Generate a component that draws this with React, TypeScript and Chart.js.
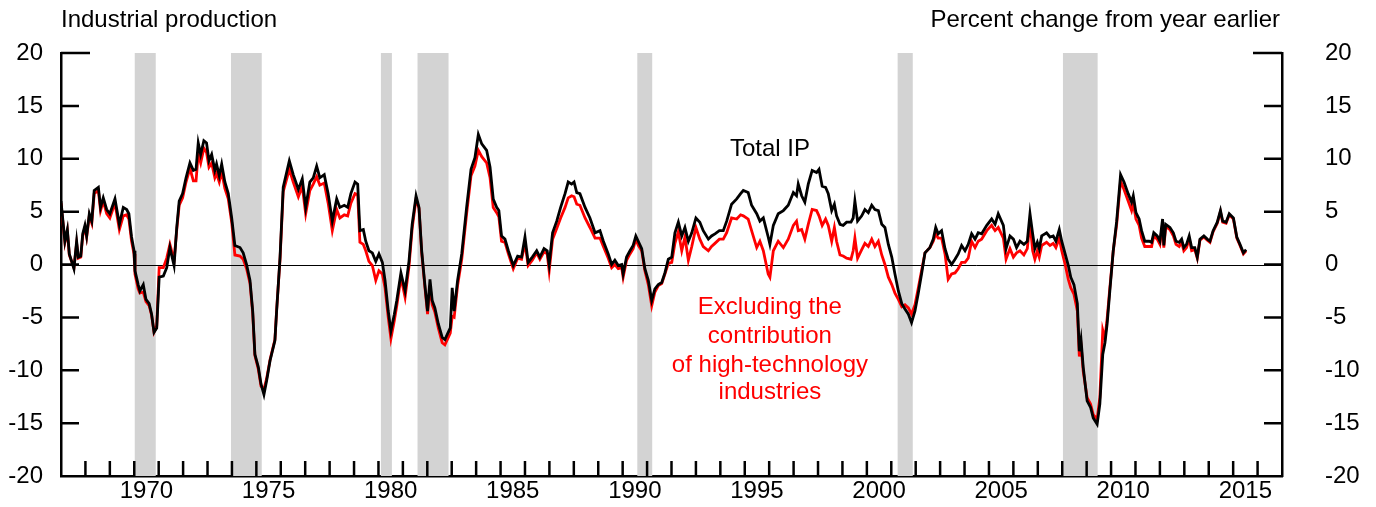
import React, { useEffect, useRef } from "react";
import { Chart, registerables } from "chart.js";
Chart.register(...registerables);

const FONT = "'Liberation Sans', Arial, Helvetica, sans-serif";

const dates = [
  1967.00, 1967.16, 1967.26, 1967.34, 1967.53, 1967.64, 1967.71, 1967.81, 1967.89, 1967.98,
  1968.05, 1968.16, 1968.26, 1968.36, 1968.53, 1968.62, 1968.73, 1968.87, 1969.00, 1969.21,
  1969.39, 1969.55, 1969.69, 1969.78, 1969.89, 1969.99, 1970.03, 1970.16, 1970.23, 1970.37,
  1970.48, 1970.61, 1970.71, 1970.81, 1970.92, 1971.02, 1971.19, 1971.33, 1971.46, 1971.63,
  1971.74, 1971.84, 1971.98, 1972.12, 1972.28, 1972.42, 1972.53, 1972.62, 1972.72, 1972.85,
  1972.96, 1973.06, 1973.17, 1973.30, 1973.37, 1973.48, 1973.58, 1973.71, 1973.85, 1973.99,
  1974.12, 1974.33, 1974.46, 1974.60, 1974.74, 1974.85, 1974.94, 1975.08, 1975.19, 1975.31,
  1975.42, 1975.56, 1975.76, 1975.83, 1975.97, 1976.10, 1976.35, 1976.51, 1976.72, 1976.88,
  1977.02, 1977.19, 1977.33, 1977.47, 1977.60, 1977.78, 1977.94, 1978.11, 1978.29, 1978.42,
  1978.60, 1978.74, 1978.87, 1979.04, 1979.15, 1979.24, 1979.38, 1979.48, 1979.61, 1979.75,
  1979.89, 1980.02, 1980.16, 1980.27, 1980.40, 1980.51, 1980.65, 1980.75, 1980.92, 1981.09,
  1981.25, 1981.38, 1981.54, 1981.66, 1981.77, 1981.90, 1982.01, 1982.11, 1982.20, 1982.31,
  1982.45, 1982.61, 1982.72, 1982.86, 1982.94, 1983.02, 1983.10, 1983.24, 1983.41, 1983.61,
  1983.79, 1983.95, 1984.09, 1984.23, 1984.43, 1984.57, 1984.70, 1984.84, 1984.93, 1985.04,
  1985.18, 1985.32, 1985.52, 1985.70, 1985.86, 1986.00, 1986.13, 1986.30, 1986.48, 1986.61,
  1986.78, 1986.91, 1986.99, 1987.13, 1987.30, 1987.46, 1987.64, 1987.77, 1987.91, 1988.01,
  1988.12, 1988.25, 1988.46, 1988.66, 1988.87, 1989.07, 1989.21, 1989.41, 1989.55, 1989.68,
  1989.82, 1989.96, 1990.02, 1990.16, 1990.30, 1990.43, 1990.54, 1990.64, 1990.78, 1990.91,
  1991.05, 1991.19, 1991.32, 1991.46, 1991.60, 1991.73, 1991.87, 1992.01, 1992.14, 1992.28,
  1992.42, 1992.55, 1992.69, 1992.83, 1993.00, 1993.16, 1993.30, 1993.51, 1993.64, 1993.78,
  1993.96, 1994.12, 1994.26, 1994.46, 1994.67, 1994.83, 1994.94, 1995.14, 1995.28, 1995.49,
  1995.62, 1995.76, 1995.96, 1996.03, 1996.17, 1996.37, 1996.58, 1996.78, 1996.99, 1997.12,
  1997.19, 1997.33, 1997.46, 1997.60, 1997.76, 1997.94, 1998.04, 1998.17, 1998.31, 1998.42,
  1998.56, 1998.67, 1998.76, 1998.90, 1999.03, 1999.17, 1999.35, 1999.44, 1999.51, 1999.62,
  1999.79, 1999.92, 2000.06, 2000.20, 2000.33, 2000.47, 2000.61, 2000.74, 2000.88, 2001.02,
  2001.15, 2001.29, 2001.43, 2001.56, 2001.70, 2001.83, 2001.97, 2002.10, 2002.24, 2002.38,
  2002.58, 2002.72, 2002.82, 2002.92, 2003.06, 2003.20, 2003.33, 2003.47, 2003.61, 2003.74,
  2003.88, 2004.02, 2004.15, 2004.29, 2004.43, 2004.56, 2004.70, 2004.91, 2005.11, 2005.25,
  2005.38, 2005.59, 2005.70, 2005.86, 2006.00, 2006.13, 2006.27, 2006.43, 2006.57, 2006.68,
  2006.79, 2006.88, 2006.98, 2007.06, 2007.16, 2007.36, 2007.50, 2007.63, 2007.74, 2007.88,
  2007.98, 2008.12, 2008.25, 2008.35, 2008.48, 2008.62, 2008.70, 2008.77, 2008.86, 2009.02,
  2009.16, 2009.27, 2009.43, 2009.54, 2009.66, 2009.75, 2009.84, 2009.95, 2010.09, 2010.23,
  2010.39, 2010.53, 2010.70, 2010.84, 2010.91, 2011.02, 2011.15, 2011.25, 2011.38, 2011.56,
  2011.66, 2011.75, 2011.89, 2012.00, 2012.11, 2012.16, 2012.24, 2012.41, 2012.55, 2012.66,
  2012.79, 2012.89, 2012.98, 2013.09, 2013.20, 2013.30, 2013.43, 2013.53, 2013.64, 2013.80,
  2013.94, 2014.05, 2014.18, 2014.35, 2014.48, 2014.57, 2014.71, 2014.84, 2015.01, 2015.15,
  2015.28, 2015.42, 2015.53,
];

const totalIP = [
  6.0, 2.2, 3.3, 1.0, -0.4, 2.2, 0.7, 0.8, 2.9, 3.7,
  2.7, 4.8, 4.1, 7.0, 7.3, 5.4, 6.3, 5.2, 4.8, 6.2,
  3.8, 5.4, 5.2, 4.8, 2.6, 1.3, -0.6, -1.9, -2.5, -1.9,
  -3.3, -3.7, -4.7, -6.4, -6.0, -1.2, -1.1, -0.3, 1.6, -0.1,
  3.5, 6.0, 6.7, 8.2, 9.6, 8.9, 9.0, 11.5, 10.4, 11.7,
  11.5, 9.8, 10.4, 8.9, 9.5, 8.4, 9.5, 7.8, 6.7, 4.4,
  1.8, 1.6, 1.1, 0.0, -1.5, -4.4, -8.5, -9.7, -11.3, -12.3,
  -11.0, -9.1, -7.2, -4.4, 0.7, 7.3, 9.8, 8.5, 7.1, 8.1,
  5.4, 7.8, 8.2, 9.3, 8.2, 8.5, 6.7, 4.1, 6.2, 5.4,
  5.6, 5.4, 6.7, 7.8, 7.6, 3.2, 3.3, 2.2, 1.3, 1.1,
  0.3, 1.0, 0.2, -1.5, -4.4, -6.3, -4.7, -3.4, -0.8, -2.5,
  0.3, 3.8, 6.5, 5.4, 1.3, -1.9, -4.4, -1.4, -3.4, -4.1,
  -5.6, -6.9, -7.1, -6.4, -6.0, -2.2, -4.4, -1.5, 1.0, 5.4,
  9.0, 10.1, 12.3, 11.4, 10.8, 9.2, 6.2, 5.4, 5.1, 2.7,
  2.4, 1.3, -0.1, 0.8, 0.7, 2.6, 0.2, 0.7, 1.3, 0.7,
  1.5, 1.3, 0.0, 3.0, 4.1, 5.4, 6.7, 7.8, 7.6, 7.8,
  6.8, 6.7, 5.4, 4.4, 3.0, 3.2, 2.2, 1.0, 0.0, 0.4,
  -0.1, 0.0, -0.9, 0.7, 1.3, 1.8, 2.7, 2.2, 1.5, -0.4,
  -1.5, -3.4, -2.3, -1.9, -1.7, -0.8, 0.5, 0.7, 3.0, 4.0,
  2.7, 3.5, 2.2, 3.0, 4.4, 4.0, 3.2, 2.4, 2.7, 2.9,
  3.2, 3.2, 4.1, 5.7, 6.2, 6.7, 7.0, 6.8, 5.6, 4.8,
  4.1, 4.4, 2.6, 1.9, 3.7, 4.8, 5.1, 5.6, 6.8, 6.5,
  7.6, 6.5, 5.9, 7.6, 8.9, 8.7, 9.0, 7.4, 7.3, 6.7,
  5.1, 5.7, 4.6, 3.8, 3.7, 4.0, 4.0, 4.4, 6.0, 4.1,
  4.6, 5.2, 4.9, 5.6, 5.2, 5.1, 3.8, 3.5, 1.9, 0.7,
  -0.9, -2.5, -3.7, -4.2, -4.7, -5.5, -4.4, -2.8, -0.9, 1.1,
  1.6, 2.4, 3.5, 2.9, 3.2, 1.5, 0.5, 0.0, 0.5, 1.0,
  1.8, 1.3, 1.9, 2.9, 2.4, 3.0, 2.9, 3.7, 4.3, 3.8,
  4.8, 3.7, 1.5, 2.7, 2.4, 1.6, 2.2, 1.9, 2.2, 4.8,
  2.9, 1.5, 2.1, 1.5, 2.7, 3.0, 2.6, 2.7, 2.2, 3.3,
  2.2, 1.0, -0.1, -1.2, -1.9, -3.7, -8.2, -7.1, -9.7, -12.9,
  -13.5, -14.5, -15.1, -13.2, -8.5, -7.4, -5.6, -2.5, 1.3, 4.1,
  8.5, 7.8, 6.7, 5.9, 6.5, 4.9, 4.3, 3.2, 2.2, 2.2,
  2.1, 3.0, 2.7, 2.2, 4.3, 1.8, 3.8, 3.5, 3.0, 2.2,
  2.1, 2.4, 1.6, 1.9, 2.7, 1.6, 1.6, 0.7, 2.4, 2.7,
  2.4, 2.2, 3.2, 4.0, 5.1, 4.1, 4.0, 4.8, 4.4, 2.6,
  1.9, 1.1, 1.4,
];

const exHighTech = [
  5.8, 2.1, 3.2, 0.9, -0.3, 2.0, 0.6, 0.7, 2.7, 3.5,
  2.6, 4.6, 3.9, 6.7, 7.0, 5.1, 6.0, 4.8, 4.4, 5.8,
  3.3, 4.6, 4.7, 4.3, 2.2, 1.0, -0.9, -2.3, -2.7, -2.6,
  -3.5, -3.9, -4.8, -6.4, -5.8, -0.3, -0.3, 0.6, 1.9, 0.4,
  3.3, 5.6, 6.3, 7.8, 9.1, 7.9, 7.9, 10.5, 9.6, 11.0,
  10.6, 9.2, 9.6, 8.2, 8.6, 7.8, 8.8, 7.2, 6.2, 4.0,
  0.9, 0.8, 0.5, -0.4, -1.8, -4.6, -8.6, -9.9, -11.5, -11.8,
  -10.8, -9.0, -7.1, -4.3, 0.5, 6.9, 9.0, 7.8, 6.4, 7.4,
  4.8, 7.0, 7.6, 8.3, 7.5, 7.7, 5.8, 3.2, 5.2, 4.4,
  4.7, 4.6, 5.8, 6.7, 6.6, 2.1, 1.9, 1.3, 0.3, -0.1,
  -1.5, -0.6, -0.9, -2.2, -5.0, -7.0, -5.3, -3.9, -1.2, -3.1,
  -0.2, 3.4, 6.2, 5.3, 1.1, -2.1, -4.7, -2.0, -3.8, -4.5,
  -6.0, -7.4, -7.6, -6.9, -6.5, -4.9, -5.0, -2.0, 0.5, 4.8,
  8.4, 9.3, 10.8, 10.2, 9.6, 8.2, 5.4, 4.9, 4.5, 2.2,
  2.1, 1.0, -0.4, 0.6, 0.5, 2.0, -0.1, 0.4, 1.1, 0.5,
  1.2, 1.0, -0.6, 2.4, 3.4, 4.4, 5.4, 6.3, 6.5, 6.4,
  5.7, 5.6, 4.4, 3.5, 2.5, 2.5, 1.7, 0.6, -0.3, 0.0,
  -0.4, -0.3, -1.2, 0.4, 1.0, 1.5, 2.4, 1.8, 1.3, -0.6,
  -1.9, -3.9, -2.6, -2.0, -1.8, -0.9, 0.1, 0.2, 2.0, 3.1,
  1.3, 2.6, 0.4, 1.7, 3.5, 2.4, 1.7, 1.3, 1.7, 2.0,
  2.4, 2.4, 3.0, 4.4, 4.3, 4.7, 4.6, 4.3, 3.2, 1.6,
  2.2, 1.3, -0.9, -1.2, 1.3, 2.2, 1.6, 2.4, 3.7, 4.1,
  3.2, 3.3, 2.4, 3.8, 5.2, 5.1, 4.6, 3.7, 4.3, 3.7,
  2.2, 3.5, 2.2, 0.9, 0.8, 0.6, 0.5, 1.3, 2.5, 0.6,
  1.4, 2.0, 1.7, 2.4, 1.7, 2.2, 0.9, 0.0, -1.2, -1.9,
  -2.7, -3.3, -4.0, -3.8, -4.1, -4.7, -3.8, -2.3, -0.6, 1.1,
  1.6, 2.2, 2.9, 2.5, 2.5, 1.0, -1.4, -0.9, -0.8, -0.4,
  0.2, 0.2, 0.6, 2.2, 1.6, 2.2, 2.4, 3.2, 3.7, 3.2,
  3.5, 2.5, 0.5, 1.5, 0.7, 1.1, 1.3, 0.9, 1.5, 4.0,
  1.3, 0.5, 1.3, 0.7, 1.8, 2.1, 1.8, 2.0, 1.6, 2.5,
  1.3, 0.0, -1.4, -2.2, -2.8, -4.4, -8.7, -7.6, -10.1, -12.6,
  -13.2, -14.2, -14.6, -12.6, -6.2, -7.0, -5.1, -2.2, 1.3, 3.8,
  7.9, 7.1, 6.0, 5.1, 5.8, 4.3, 3.7, 2.5, 1.7, 1.7,
  1.7, 2.7, 2.4, 1.9, 3.9, 1.6, 3.6, 3.3, 2.7, 1.9,
  1.7, 2.1, 1.3, 1.6, 2.4, 1.3, 1.4, 0.6, 2.3, 2.6,
  2.3, 2.1, 3.1, 3.9, 5.0, 4.0, 3.9, 4.7, 4.3, 2.5,
  1.8, 1.0, 1.3,
];

const xLabelYears = [1970, 1975, 1980, 1985, 1990, 1995, 2000, 2005, 2010, 2015];
const recessionStarts = [1970.02, 1973.96, 1980.10, 1981.60, 1990.60, 2001.26, 2008.03];
const recessionEnds = [1970.88, 1975.22, 1980.55, 1982.87, 1991.21, 2001.88, 2009.45];

const leftTitle = "Industrial production";
const rightTitle = "Percent change from year earlier";
const totalLabel = "Total IP";
const totalLabelPos = { x: 1996.03, y: 10.85 };
const redLabelLines = ["Excluding the", "contribution", "of high-technology", "industries"];
const redLabelPos = { x: 1996.03, y: [-4.1, -6.75, -9.5, -12.1] };

const decorPlugin = {
  id: "decor",
  beforeDatasetsDraw(chart: any) {
    const { ctx, chartArea: ca, scales } = chart;
    const x = scales.x, y = scales.y;
    ctx.save();
    ctx.fillStyle = "#d3d3d3";
    recessionStarts.forEach((s, i) => {
      const x0 = x.getPixelForValue(s);
      const x1 = x.getPixelForValue(recessionEnds[i]);
      ctx.fillRect(x0, ca.top, x1 - x0, ca.bottom - ca.top);
    });
    const y0 = Math.round(y.getPixelForValue(0)) + 0.5;
    ctx.strokeStyle = "#000";
    ctx.lineWidth = 1;
    ctx.beginPath();
    ctx.moveTo(ca.left, y0);
    ctx.lineTo(ca.right, y0);
    ctx.stroke();
    ctx.restore();
  },
  afterDraw(chart: any) {
    const { ctx, chartArea: ca, scales } = chart;
    const x = scales.x, y = scales.y;
    ctx.save();
    ctx.strokeStyle = "#000";
    ctx.lineWidth = 2.5;
    ctx.lineCap = "butt";
    y.ticks.forEach((t: any) => {
      if (t.value === y.min) return;
      const py = y.getPixelForValue(t.value);
      const len = t.value === y.max ? 29 : 18;
      ctx.beginPath();
      ctx.moveTo(ca.left, py);
      ctx.lineTo(ca.left + len, py);
      ctx.moveTo(ca.right, py);
      ctx.lineTo(ca.right - len, py);
      ctx.stroke();
    });
    for (let yr = Math.ceil(x.min) + 1; yr < x.max; yr++) {
      const px = x.getPixelForValue(yr);
      ctx.beginPath();
      ctx.moveTo(px, ca.bottom);
      ctx.lineTo(px, ca.bottom - 15);
      ctx.stroke();
    }
    ctx.fillStyle = "#000";
    ctx.font = `24px ${FONT}`;
    ctx.textBaseline = "alphabetic";
    ctx.textAlign = "left";
    ctx.fillText(leftTitle, 61, 27);
    ctx.textAlign = "right";
    ctx.fillText(rightTitle, 1280, 27);
    ctx.textAlign = "center";
    ctx.textBaseline = "middle";
    ctx.fillStyle = "#000";
    ctx.fillText(totalLabel, x.getPixelForValue(totalLabelPos.x), y.getPixelForValue(totalLabelPos.y));
    ctx.fillStyle = "#ff0000";
    redLabelLines.forEach((line, i) => {
      ctx.fillText(line, x.getPixelForValue(redLabelPos.x), y.getPixelForValue(redLabelPos.y[i]));
    });
    ctx.restore();
  },
};

export default function App() {
  const ref = useRef<HTMLCanvasElement | null>(null);
  useEffect(() => {
    if (!ref.current) return;
    const chart = new Chart(ref.current, {
      type: "line",
      data: {
        datasets: [
          {
            label: "Total IP",
            data: dates.map((d, i) => ({ x: d, y: totalIP[i] })),
            borderColor: "#000000",
            borderWidth: 2.8,
            pointRadius: 0,
            tension: 0,
            order: 0,
            yAxisID: "y",
          },
          {
            label: "Excluding high-tech",
            data: dates.map((d, i) => ({ x: d, y: exHighTech[i] })),
            borderColor: "#ff0000",
            borderWidth: 2.8,
            pointRadius: 0,
            tension: 0,
            order: 1,
            yAxisID: "y",
          },
        ],
      },
      options: {
        responsive: false,
        animation: false,
        devicePixelRatio: 1,
        layout: { padding: { top: 53, left: 0, right: 0, bottom: 0 } },
        plugins: { legend: { display: false }, tooltip: { enabled: false } },
        events: [],
        scales: {
          x: {
            type: "linear",
            min: 1967,
            max: 2017,
            grid: { display: false, drawTicks: false },
            border: { display: true, color: "#000", width: 2.5 },
            afterBuildTicks: (scale: any) => {
              scale.ticks = xLabelYears.map((v) => ({ value: v + 0.5 }));
            },
            afterFit: (scale: any) => {
              scale.height = 31;
            },
            ticks: {
              autoSkip: false,
              maxRotation: 0,
              padding: 1,
              color: "#000",
              font: { family: FONT, size: 24 },
              callback: (v: any) => String(Math.floor(Number(v))),
            },
          },
          y: {
            type: "linear",
            position: "left",
            min: -20,
            max: 20,
            grid: { display: true, drawOnChartArea: false, drawTicks: true, tickLength: 18, tickColor: "rgba(0,0,0,0)" },
            border: { display: true, color: "#000", width: 2.5 },
            afterFit: (scale: any) => {
              scale.width = 61;
            },
            ticks: { stepSize: 5, padding: 0, color: "#000", font: { family: FONT, size: 24 } },
          },
          y2: {
            type: "linear",
            position: "right",
            min: -20,
            max: 20,
            grid: { display: true, drawOnChartArea: false, drawTicks: true, tickLength: 43, tickColor: "rgba(0,0,0,0)" },
            border: { display: true, color: "#000", width: 2.5 },
            afterFit: (scale: any) => {
              scale.width = 94;
            },
            ticks: { stepSize: 5, padding: 0, color: "#000", font: { family: FONT, size: 24 } },
          },
        },
      },
      plugins: [decorPlugin],
    });
    return () => chart.destroy();
  }, []);
  return (
    <div style={{ position: "fixed", left: 0, top: 0, width: 1376, height: 507, background: "#fff" }}>
      <canvas ref={ref} width={1376} height={507} style={{ display: "block" }} />
    </div>
  );
}
